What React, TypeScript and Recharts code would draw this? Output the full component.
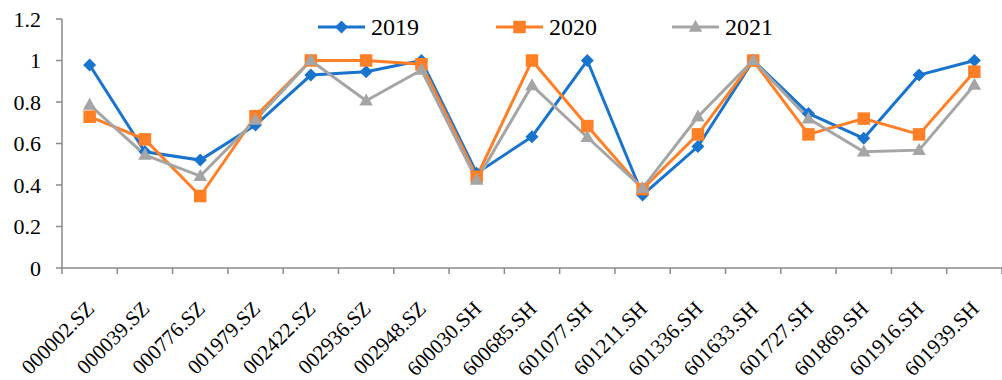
import React from "react";
import { LineChart, Line, XAxis, YAxis } from "recharts";

const categories = [
  "000002.SZ", "000039.SZ", "000776.SZ", "001979.SZ", "002422.SZ", "002936.SZ",
  "002948.SZ", "600030.SH", "600685.SH", "601077.SH", "601211.SH", "601336.SH",
  "601633.SH", "601727.SH", "601869.SH", "601916.SH", "601939.SH",
];

const values2019 = [0.978, 0.56, 0.52, 0.689, 0.93, 0.946, 1.0, 0.457, 0.633, 1.0, 0.352, 0.585, 1.0, 0.745, 0.625, 0.93, 1.0];
const values2020 = [0.729, 0.62, 0.347, 0.732, 1.0, 1.0, 0.982, 0.44, 1.0, 0.684, 0.38, 0.644, 1.0, 0.644, 0.72, 0.644, 0.946];
const values2021 = [0.786, 0.545, 0.443, 0.713, 1.0, 0.806, 0.954, 0.424, 0.88, 0.63, 0.385, 0.729, 1.0, 0.72, 0.56, 0.568, 0.882];

const yTicks = [0, 0.2, 0.4, 0.6, 0.8, 1, 1.2];

const data = categories.map((name, i) => ({
  name,
  y2019: values2019[i],
  y2020: values2020[i],
  y2021: values2021[i],
}));

const W = 1002;
const H = 380;
const LEFT = 62;
const RIGHT = 0;
const BAND = (W - LEFT - RIGHT) / categories.length;
const FONT = "'Liberation Serif', 'Times New Roman', serif";
const AXIS = "#8a8a8a";

const BLUE = "#1874cd";
const ORANGE = "#ff7f27";
const GRAY = "#a5a5a5";

type Shape = "diamond" | "square" | "triangle";

function Marker({ cx, cy, shape, color }: { cx: number; cy: number; shape: Shape; color: string }) {
  if (cx == null || cy == null) return null;
  if (shape === "diamond") {
    const r = 6.5;
    return <polygon points={`${cx},${cy - r} ${cx + r},${cy} ${cx},${cy + r} ${cx - r},${cy}`} fill={color} />;
  }
  if (shape === "square") {
    const s = 12.5;
    return <rect x={cx - s / 2} y={cy - s / 2} width={s} height={s} fill={color} />;
  }
  const w = 13.5;
  const h = 12;
  return <polygon points={`${cx},${cy - h * 0.6} ${cx + w / 2},${cy + h * 0.4} ${cx - w / 2},${cy + h * 0.4}`} fill={color} />;
}

const series: { key: string; label: string; color: string; shape: Shape; legendX: number }[] = [
  { key: "y2019", label: "2019", color: BLUE, shape: "diamond", legendX: 318 },
  { key: "y2020", label: "2020", color: ORANGE, shape: "square", legendX: 496 },
  { key: "y2021", label: "2021", color: GRAY, shape: "triangle", legendX: 672 },
];

// Category ticks: tick marks sit on the band boundaries, labels under band centres
function XTick(props: any) {
  const { x, y, payload, index } = props;
  const half = BAND / 2;
  const last = index === categories.length - 1;
  const tx = x + 6;
  const ty = y + 42;
  return (
    <g>
      <line x1={x - half} x2={x - half} y1={y} y2={y + 6} stroke={AXIS} strokeWidth={1.5} />
      {last && <line x1={x + half} x2={x + half} y1={y} y2={y + 6} stroke={AXIS} strokeWidth={1.5} />}
      <text
        x={tx}
        y={ty}
        textAnchor="end"
        transform={`rotate(-45, ${tx}, ${ty})`}
        fontFamily={FONT}
        fontSize={21}
        fill="#000"
      >
        {payload.value}
      </text>
    </g>
  );
}

function Legend() {
  return (
    <svg width={W} height={60} style={{ position: "absolute", left: 0, top: 0, pointerEvents: "none" }}>
      {series.map((s) => (
        <g key={s.key}>
          <line x1={s.legendX} x2={s.legendX + 47} y1={27} y2={27} stroke={s.color} strokeWidth={3} />
          <Marker cx={s.legendX + 23.5} cy={27} shape={s.shape} color={s.color} />
          <text x={s.legendX + 53} y={35} fontFamily={FONT} fontSize={24} fill="#000">
            {s.label}
          </text>
        </g>
      ))}
    </svg>
  );
}

export default function App() {
  return (
    <div style={{ position: "absolute", left: 0, top: 0, width: W, height: H, background: "#fff" }}>
      <LineChart width={W} height={H} data={data} margin={{ top: 19, right: RIGHT, bottom: 0, left: 0 }}>
        <XAxis
          dataKey="name"
          interval={0}
          height={112}
          padding={{ left: BAND / 2, right: BAND / 2 }}
          tickLine={false}
          tickSize={0}
          tickMargin={0}
          axisLine={{ stroke: AXIS, strokeWidth: 1.5 }}
          tick={<XTick />}
        />
        <YAxis
          domain={[0, 1.2]}
          ticks={yTicks}
          width={LEFT}
          interval={0}
          tickSize={6}
          tickMargin={15}
          axisLine={{ stroke: AXIS, strokeWidth: 1.5 }}
          tickLine={{ stroke: AXIS, strokeWidth: 1.5 }}
          tick={{ fontFamily: FONT, fontSize: 22, fill: "#000" }}
        />
        {series.map((s) => (
          <Line
            key={s.key}
            dataKey={s.key}
            stroke={s.color}
            strokeWidth={3}
            isAnimationActive={false}
            activeDot={false}
            dot={(p: any) => <Marker key={`${s.key}-${p.index}`} cx={p.cx} cy={p.cy} shape={s.shape} color={s.color} />}
          />
        ))}
      </LineChart>
      <Legend />
    </div>
  );
}
